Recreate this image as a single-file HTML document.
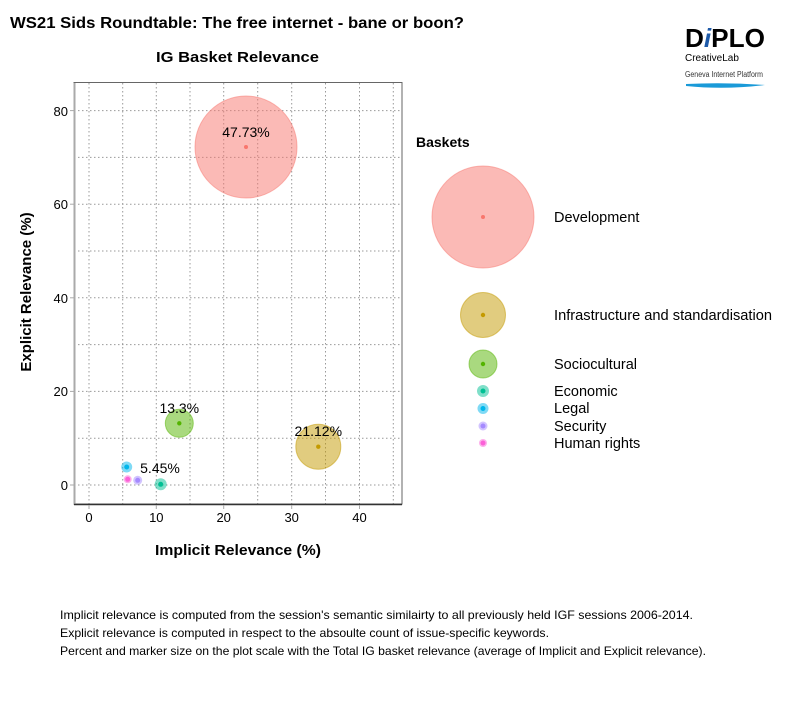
<!DOCTYPE html>
<html><head><meta charset="utf-8"><style>
body{margin:0;background:#fff;}
svg text{font-family:"Liberation Sans",sans-serif;}
</style></head><body>
<svg width="800" height="700" viewBox="0 0 800 700" xmlns="http://www.w3.org/2000/svg">
<rect width="800" height="700" fill="#fff"/>
<text x="10" y="28" font-size="16" font-weight="bold" fill="#000" textLength="454" lengthAdjust="spacingAndGlyphs">WS21 Sids Roundtable: The free internet - bane or boon?</text>
<text x="156" y="62" font-size="15" font-weight="bold" textLength="163" lengthAdjust="spacingAndGlyphs">IG Basket Relevance</text>
<!-- logo -->
<text x="685" y="47" font-size="26" font-weight="bold" fill="#000" textLength="80" lengthAdjust="spacingAndGlyphs">D<tspan fill="#1e5aa8" font-style="italic">i</tspan>PLO</text>
<text x="685" y="61" font-size="10">CreativeLab</text>
<text x="685" y="77" font-size="8" fill="#333" textLength="78" lengthAdjust="spacingAndGlyphs">Geneva Internet Platform</text>
<path d="M686 84 Q725 82 765 85 Q725 90 686 86 Z" fill="#1a9ad8"/>
<!-- grid -->
<g stroke="#999" stroke-width="1" stroke-dasharray="1.5,2.5">
<line x1="74" x2="402" y1="485" y2="485"/><line x1="74" x2="402" y1="438.2" y2="438.2"/>
<line x1="74" x2="402" y1="391.4" y2="391.4"/><line x1="74" x2="402" y1="344.6" y2="344.6"/>
<line x1="74" x2="402" y1="297.8" y2="297.8"/><line x1="74" x2="402" y1="251" y2="251"/>
<line x1="74" x2="402" y1="204.2" y2="204.2"/><line x1="74" x2="402" y1="157.4" y2="157.4"/>
<line x1="74" x2="402" y1="110.6" y2="110.6"/>
<line y1="83" y2="504" x1="89" x2="89"/><line y1="83" y2="504" x1="122.7" x2="122.7"/>
<line y1="83" y2="504" x1="156.3" x2="156.3"/><line y1="83" y2="504" x1="190" x2="190"/>
<line y1="83" y2="504" x1="223.7" x2="223.7"/><line y1="83" y2="504" x1="257.7" x2="257.7"/>
<line y1="83" y2="504" x1="291.7" x2="291.7"/><line y1="83" y2="504" x1="325.5" x2="325.5"/>
<line y1="83" y2="504" x1="359.5" x2="359.5"/><line y1="83" y2="504" x1="393.3" x2="393.3"/>
</g>
<rect x="74" y="82.5" width="328" height="421.5" fill="none" stroke="#666" stroke-width="1"/>
<line x1="74.5" y1="83" x2="74.5" y2="504" stroke="#aaa" stroke-width="2"/>
<line x1="74" y1="504.5" x2="402" y2="504.5" stroke="#333" stroke-width="1.5"/>
<!-- ticks -->
<g stroke="#aaa"><line x1="70" x2="74" y1="485" y2="485"/><line x1="70" x2="74" y1="391.4" y2="391.4"/><line x1="70" x2="74" y1="297.8" y2="297.8"/><line x1="70" x2="74" y1="204.2" y2="204.2"/><line x1="70" x2="74" y1="110.6" y2="110.6"/>
<line x1="89" x2="89" y1="505" y2="509"/><line x1="156.3" x2="156.3" y1="505" y2="509"/><line x1="223.7" x2="223.7" y1="505" y2="509"/><line x1="291.7" x2="291.7" y1="505" y2="509"/><line x1="359.5" x2="359.5" y1="505" y2="509"/></g>
<g font-size="13" text-anchor="end"><text x="68" y="490">0</text><text x="68" y="396">20</text><text x="68" y="303">40</text><text x="68" y="209">60</text><text x="68" y="116">80</text></g>
<g font-size="13" text-anchor="middle"><text x="89" y="522">0</text><text x="156.3" y="522">10</text><text x="223.7" y="522">20</text><text x="291.7" y="522">30</text><text x="359.5" y="522">40</text></g>
<text x="155" y="555" font-size="15" font-weight="bold" textLength="166" lengthAdjust="spacingAndGlyphs">Implicit Relevance (%)</text>
<text transform="translate(31,292) rotate(-90)" font-size="15" font-weight="bold" text-anchor="middle">Explicit Relevance (%)</text>
<!-- points -->
<circle cx="246" cy="147" r="51" fill="#F8766D" fill-opacity="0.5" stroke="#F8766D" stroke-opacity="0.5"/><circle cx="246" cy="147" r="2" fill="#F8766D"/>
<circle cx="318.3" cy="446.7" r="22.5" fill="#C49A00" fill-opacity="0.5" stroke="#C49A00" stroke-opacity="0.5"/><circle cx="318.3" cy="446.7" r="2.2" fill="#C49A00"/>
<circle cx="179.3" cy="423.3" r="14" fill="#53B400" fill-opacity="0.5" stroke="#53B400" stroke-opacity="0.5"/><circle cx="179.3" cy="423.3" r="2.2" fill="#53B400"/>
<circle cx="160.7" cy="484.3" r="6" fill="#00C094" fill-opacity="0.5"/><circle cx="160.7" cy="484.3" r="2.5" fill="#00C094"/>
<circle cx="126.7" cy="467" r="5.5" fill="#00B6EB" fill-opacity="0.5"/><circle cx="126.7" cy="467" r="2.5" fill="#00B6EB"/>
<circle cx="137.7" cy="480.3" r="4.5" fill="#A58AFF" fill-opacity="0.5"/><circle cx="137.7" cy="480.3" r="2.5" fill="#A58AFF"/>
<circle cx="127.7" cy="479.3" r="4" fill="#FB61D7" fill-opacity="0.5"/><circle cx="127.7" cy="479.3" r="2.5" fill="#FB61D7"/>
<g font-size="14" text-anchor="middle"><text x="246" y="137">47.73%</text><text x="318.3" y="436">21.12%</text><text x="179.3" y="413">13.3%</text><text x="160" y="473">5.45%</text></g>
<!-- legend -->
<text x="416" y="147" font-size="14" font-weight="bold">Baskets</text>
<circle cx="483" cy="217" r="51" fill="#F8766D" fill-opacity="0.5" stroke="#F8766D" stroke-opacity="0.5"/><circle cx="483" cy="217" r="2" fill="#F8766D"/>
<circle cx="483" cy="315" r="22.5" fill="#C49A00" fill-opacity="0.5" stroke="#C49A00" stroke-opacity="0.5"/><circle cx="483" cy="315" r="2.2" fill="#C49A00"/>
<circle cx="483" cy="364" r="14" fill="#53B400" fill-opacity="0.5" stroke="#53B400" stroke-opacity="0.5"/><circle cx="483" cy="364" r="2.2" fill="#53B400"/>
<circle cx="483" cy="391" r="6" fill="#00C094" fill-opacity="0.5"/><circle cx="483" cy="391" r="2.5" fill="#00C094"/>
<circle cx="483" cy="408.5" r="5.5" fill="#00B6EB" fill-opacity="0.5"/><circle cx="483" cy="408.5" r="2.5" fill="#00B6EB"/>
<circle cx="483" cy="426" r="4.5" fill="#A58AFF" fill-opacity="0.5"/><circle cx="483" cy="426" r="2.5" fill="#A58AFF"/>
<circle cx="483" cy="443" r="4" fill="#FB61D7" fill-opacity="0.5"/><circle cx="483" cy="443" r="2.5" fill="#FB61D7"/>
<g font-size="14.5"><text x="554" y="222">Development</text><text x="554" y="320" textLength="218" lengthAdjust="spacingAndGlyphs">Infrastructure and standardisation</text><text x="554" y="369">Sociocultural</text><text x="554" y="396">Economic</text><text x="554" y="413">Legal</text><text x="554" y="431">Security</text><text x="554" y="448">Human rights</text></g>
<g font-size="12"><text x="60" y="619" textLength="633" lengthAdjust="spacingAndGlyphs">Implicit relevance is computed from the session's semantic similairty to all previously held IGF sessions 2006-2014.</text><text x="60" y="637" textLength="489" lengthAdjust="spacingAndGlyphs">Explicit relevance is computed in respect to the absoulte count of issue-specific keywords.</text><text x="60" y="655" textLength="646" lengthAdjust="spacingAndGlyphs">Percent and marker size on the plot scale with the Total IG basket relevance (average of Implicit and Explicit relevance).</text></g>
</svg>
</body></html>
